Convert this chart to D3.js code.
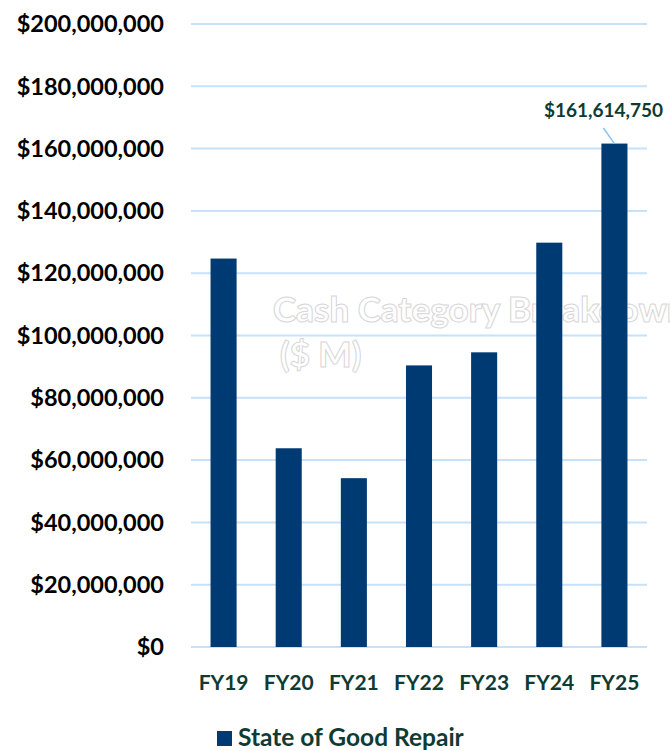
<!DOCTYPE html>
<html>
<head>
<meta charset="utf-8">
<script src="https://cdn.jsdelivr.net/npm/d3@7"></script>
<style>
  body { margin: 0; background: #fff; }
  svg { display: block; font-family: Lato, "Open Sans", sans-serif; }
</style>
</head>
<body>
<script>
// chart values
const years = ["FY19", "FY20", "FY21", "FY22", "FY23", "FY24", "FY25"];
const sgr = [124700000, 63800000, 54200000, 90400000, 94600000, 129800000, 161614750];
const yTicks = [0, 20000000, 40000000, 60000000, 80000000, 100000000, 120000000, 140000000, 160000000, 180000000, 200000000];
const seriesName = "State of Good Repair";
const watermark = ["Cash Category Breakdown", "($ M)"];

const W = 670, H = 751;
const plotLeft = 191, plotRight = 647, plotTop = 24, plotBottom = 647;

const svg = d3.select("body").append("svg").attr("width", W).attr("height", H);

const x = d3.scaleBand().domain(years).range([plotLeft, plotRight]).paddingInner(0.6).paddingOuter(0.3);
const y = d3.scaleLinear().domain([0, 200000000]).range([plotBottom, plotTop]);

// gridlines
svg.append("g").selectAll("line")
  .data(yTicks).enter().append("line")
  .attr("x1", plotLeft).attr("x2", plotRight)
  .attr("y1", d => y(d)).attr("y2", d => y(d))
  .attr("stroke", "#c6e1fa").attr("stroke-width", 2);

// y labels
const fmt = d3.format("$,.0f");
svg.append("g").selectAll("text")
  .data(yTicks).enter().append("text")
  .attr("x", 164).attr("y", d => y(d))
  .attr("dy", "0.35em")
  .attr("text-anchor", "end")
  .attr("font-size", 23.5).attr("font-weight", "bold")
  .attr("fill", "#000")
  .text(d => fmt(d));

// faded title left behind the bars
svg.append("g").selectAll("text")
  .data(watermark).enter().append("text")
  .attr("x", (d, i) => i == 0 ? 273 : 280)
  .attr("y", (d, i) => i == 0 ? 322 : 367)
  .attr("font-size", 35).attr("font-weight", 900)
  .attr("fill", "#fff").attr("stroke", "#d6d6d6").attr("stroke-width", 1)
  .text(d => d);

// bars
svg.append("g").selectAll("rect")
  .data(sgr).enter().append("rect")
  .attr("x", (d, i) => x(years[i]))
  .attr("y", d => y(d))
  .attr("width", x.bandwidth())
  .attr("height", d => plotBottom - y(d))
  .attr("fill", "#003a72");

// x labels
svg.append("g").selectAll("text")
  .data(years).enter().append("text")
  .attr("x", d => x(d) + x.bandwidth() / 2)
  .attr("y", 690)
  .attr("text-anchor", "middle")
  .attr("font-size", 21).attr("font-weight", "bold")
  .attr("fill", "#0f3b33")
  .text(d => d);

// data label on last bar
const last = sgr.length - 1;
const lx = x(years[last]) + x.bandwidth() / 2;
svg.append("line")
  .attr("x1", lx - 11).attr("y1", 128)
  .attr("x2", lx).attr("y2", y(sgr[last]))
  .attr("stroke", "#8ec3f0").attr("stroke-width", 1.5);
svg.append("text")
  .attr("x", lx - 11).attr("y", 117)
  .attr("text-anchor", "middle")
  .attr("font-size", 19).attr("font-weight", "bold")
  .attr("fill", "#0f3b33")
  .text(fmt(sgr[last]));

// legend
svg.append("rect").attr("x", 217).attr("y", 731).attr("width", 15).attr("height", 15).attr("fill", "#003a72");
svg.append("text").attr("x", 238).attr("y", 746)
  .attr("font-size", 24.5).attr("font-weight", "bold")
  .attr("fill", "#0f3b33")
  .text(seriesName);
</script>
</body>
</html>
